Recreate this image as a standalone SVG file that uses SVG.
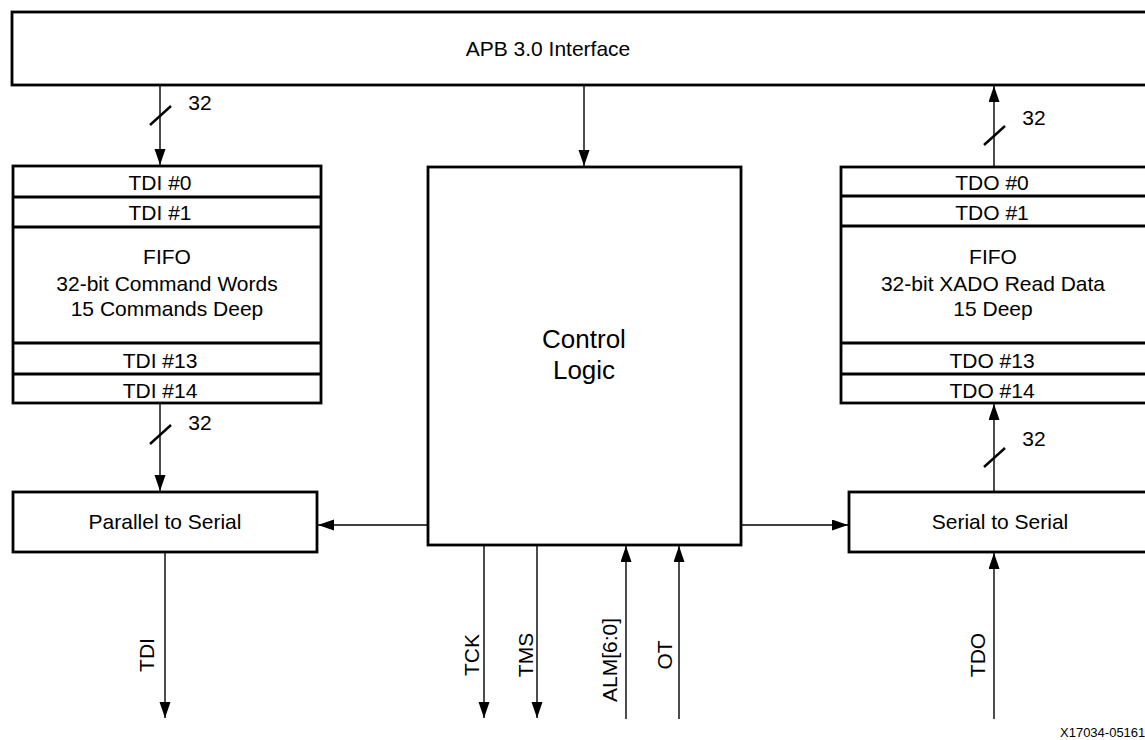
<svg xmlns="http://www.w3.org/2000/svg" width="1145" height="740" viewBox="0 0 1145 740">
<style>
.box{fill:#fff;stroke:#000;stroke-width:2.8}
.sep{stroke:#000;stroke-width:2.8}
.wire{fill:none;stroke:#000;stroke-width:1.4}
.slash{stroke:#000;stroke-width:2.4}
text{font-family:"Liberation Sans",Arial,sans-serif;fill:#000}
.t{font-size:21px;text-anchor:middle}
.big{font-size:26px;text-anchor:middle}
.sm{font-size:13px}
</style>
<defs>
<marker id="ah" markerUnits="userSpaceOnUse" markerWidth="17" markerHeight="12" refX="16" refY="5.5" orient="auto">
<path d="M0,0 L16,5.5 L0,11 Z" fill="#000"/>
</marker>
</defs>
<rect width="1145" height="740" fill="#fff"/>

<g id="apb">
<rect class="box" x="12" y="12" width="1160" height="73"/>
<text class="t" x="548" y="56">APB 3.0 Interface</text>
</g>

<g id="tdi-fifo">
<rect class="box" x="13" y="166" width="308" height="237"/>
<line class="sep" x1="13" y1="197" x2="321" y2="197"/>
<line class="sep" x1="13" y1="227" x2="321" y2="227"/>
<line class="sep" x1="13" y1="343" x2="321" y2="343"/>
<line class="sep" x1="13" y1="374" x2="321" y2="374"/>
<text class="t" x="160" y="190">TDI #0</text>
<text class="t" x="160" y="220">TDI #1</text>
<text class="t" x="167" y="264">FIFO</text>
<text class="t" x="167" y="291">32-bit Command Words</text>
<text class="t" x="167" y="316">15 Commands Deep</text>
<text class="t" x="160" y="368">TDI #13</text>
<text class="t" x="160" y="398">TDI #14</text>
</g>

<g id="control">
<rect class="box" x="428" y="167" width="313" height="378"/>
<text class="big" x="584" y="348">Control</text>
<text class="big" x="584" y="379">Logic</text>
</g>

<g id="tdo-fifo">
<rect class="box" x="841" y="167" width="330" height="236"/>
<line class="sep" x1="841" y1="196" x2="1171" y2="196"/>
<line class="sep" x1="841" y1="226" x2="1171" y2="226"/>
<line class="sep" x1="841" y1="343" x2="1171" y2="343"/>
<line class="sep" x1="841" y1="374" x2="1171" y2="374"/>
<text class="t" x="992" y="190">TDO #0</text>
<text class="t" x="992" y="220">TDO #1</text>
<text class="t" x="993" y="264">FIFO</text>
<text class="t" x="993" y="291">32-bit XADO Read Data</text>
<text class="t" x="993" y="316">15 Deep</text>
<text class="t" x="992" y="368">TDO #13</text>
<text class="t" x="992" y="398">TDO #14</text>
</g>

<g id="p2s">
<rect class="box" x="13" y="492" width="304" height="60"/>
<text class="t" x="165" y="529">Parallel to Serial</text>
</g>

<g id="s2s">
<rect class="box" x="849" y="492" width="320" height="60"/>
<text class="t" x="1000" y="529">Serial to Serial</text>
</g>

<g id="connectors">
<line class="wire" x1="160" y1="86" x2="160" y2="165" marker-end="url(#ah)"/>
<line class="slash" x1="150" y1="125" x2="171" y2="106"/>
<text class="t" x="200" y="110">32</text>

<line class="wire" x1="584" y1="86" x2="584" y2="166" marker-end="url(#ah)"/>

<line class="wire" x1="994" y1="166" x2="994" y2="86" marker-end="url(#ah)"/>
<line class="slash" x1="984" y1="145" x2="1005" y2="126"/>
<text class="t" x="1034" y="125">32</text>

<line class="wire" x1="160" y1="404" x2="160" y2="491" marker-end="url(#ah)"/>
<line class="slash" x1="150" y1="444" x2="171" y2="425"/>
<text class="t" x="200" y="430">32</text>

<line class="wire" x1="994" y1="491" x2="994" y2="404" marker-end="url(#ah)"/>
<line class="slash" x1="984" y1="467" x2="1005" y2="448"/>
<text class="t" x="1034" y="446">32</text>

<line class="wire" x1="427" y1="525" x2="318" y2="525" marker-end="url(#ah)"/>
<line class="wire" x1="742" y1="525" x2="848" y2="525" marker-end="url(#ah)"/>

<line class="wire" x1="165" y1="553" x2="165" y2="718" marker-end="url(#ah)"/>
<line class="wire" x1="484" y1="546" x2="484" y2="718" marker-end="url(#ah)"/>
<line class="wire" x1="537" y1="546" x2="537" y2="718" marker-end="url(#ah)"/>
<line class="wire" x1="626" y1="719" x2="626" y2="546" marker-end="url(#ah)"/>
<line class="wire" x1="679" y1="719" x2="679" y2="546" marker-end="url(#ah)"/>
<line class="wire" x1="994" y1="719" x2="994" y2="553" marker-end="url(#ah)"/>

<text class="t" transform="translate(154,655) rotate(-90)">TDI</text>
<text class="t" transform="translate(479,655) rotate(-90)">TCK</text>
<text class="t" transform="translate(533,655) rotate(-90)">TMS</text>
<text class="t" transform="translate(617,660) rotate(-90)">ALM[6:0]</text>
<text class="t" transform="translate(672,655) rotate(-90)">OT</text>
<text class="t" transform="translate(985,655) rotate(-90)">TDO</text>
</g>

<text class="sm" x="1060" y="737">X17034-05161</text>
</svg>
